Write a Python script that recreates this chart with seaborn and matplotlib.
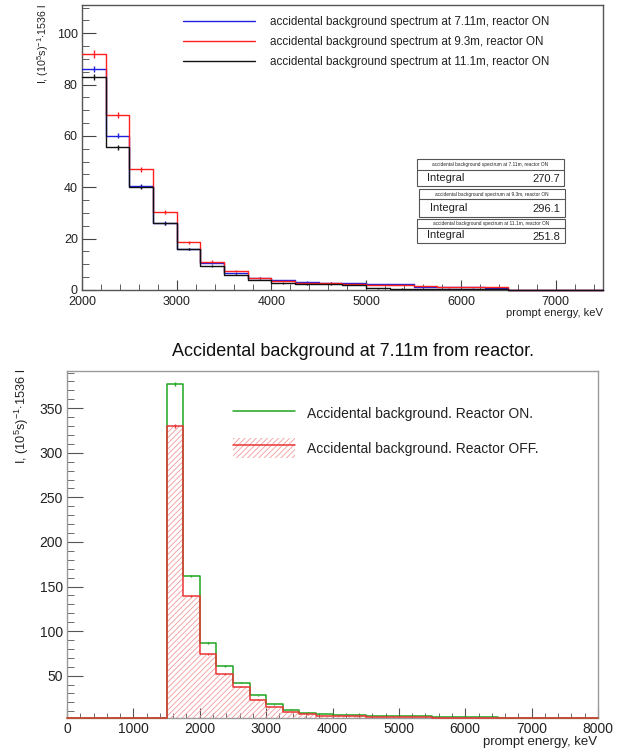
import numpy as np
import pandas as pd
import matplotlib
matplotlib.use('Agg')
import matplotlib.pyplot as plt
import seaborn as sns
from matplotlib.patches import Rectangle, Patch
from matplotlib.lines import Line2D
from matplotlib.ticker import MultipleLocator

# ---- top panel: spectra at three distances, reactor ON ----
top_edges = np.arange(2000, 7501, 250)
top_labels = ['accidental background spectrum at 7.11m, reactor ON',
              'accidental background spectrum at 9.3m, reactor ON',
              'accidental background spectrum at 11.1m, reactor ON']
spec_711 = [86, 60, 40.5, 26, 16, 10.5, 6.5, 4.8, 3.8, 3.2, 2.9, 2.6, 2.2, 2.2, 1.2, 1.2, 1.0, 0.8, 0, 0, 0, 0]
spec_93 = [92, 68, 47, 30.5, 18.5, 11, 7.5, 4.8, 3.3, 2.8, 2.8, 2.5, 2.1, 2.1, 1.6, 1.0, 1.1, 1.0, 0, 0, 0, 0]
spec_111 = [83, 55.5, 40, 26, 16, 9.5, 6, 4, 2.7, 2.2, 2.3, 2.0, 0.6, 0.5, 0.4, 0.4, 0.4, 0.3, 0, 0, 0, 0]
err_711 = [1.2, 1.0, 0.8, 0.7, 0.5, 0.4, 0.3, 0.3, 0.2, 0.2, 0.2, 0.2, 0.2, 0.2, 0.1, 0.1, 0.1, 0.1, 0, 0, 0, 0]
err_93 = [1.5, 1.2, 1.0, 0.8, 0.6, 0.5, 0.4, 0.3, 0.2, 0.2, 0.2, 0.2, 0.2, 0.2, 0.1, 0.1, 0.1, 0.1, 0, 0, 0, 0]
err_111 = [1.1, 0.9, 0.8, 0.6, 0.5, 0.4, 0.3, 0.2, 0.2, 0.2, 0.2, 0.2, 0.1, 0.1, 0.1, 0.1, 0.1, 0.1, 0, 0, 0, 0]
integrals = [270.7, 296.1, 251.8]
top_colors = ['#1f1fe0', '#ff1f1f', '#111111']

# ---- bottom panel: 7.11m, reactor ON vs OFF ----
bot_edges = np.arange(0, 8001, 250)
bg_on = [0, 0, 0, 0, 0, 0,
         377, 162, 87, 61, 42, 28, 17.7, 12, 8.5, 7, 5.9, 5.9, 4.5, 4.5, 4.5, 4.5, 3.3, 3.3, 3.3, 3.3,
         0, 0, 0, 0, 0, 0]
bg_off = [0, 0, 0, 0, 0, 0,
          330, 139, 74, 52, 37.5, 23, 15, 9, 6.5, 5, 4.5, 4.2, 3.9, 3.9, 3.7, 3.6, 2.8, 2.8, 2.6, 2.6,
          0, 0, 0, 0, 0, 0]
err_on = [0] * 6 + [2.2, 1.4, 1.0, 0.8, 0.7, 0.5, 0.4, 0.4, 0.3, 0.3, 0.3, 0.3, 0.2, 0.2, 0.2, 0.2,
                    0.2, 0.2, 0.2, 0.2] + [0] * 6
err_off = [0] * 6 + [2.0, 1.3, 0.9, 0.8, 0.6, 0.5, 0.4, 0.3, 0.3, 0.2, 0.2, 0.2, 0.2, 0.2, 0.2, 0.2,
                     0.2, 0.2, 0.2, 0.2] + [0] * 6
bot_labels = ['Accidental background. Reactor ON.', 'Accidental background. Reactor OFF.']
title = 'Accidental background at 7.11m from reactor.'
ylab = r'I, (10$^{5}$s)$^{-1}$$\cdot$1536 l'

sns.set_style('ticks')
plt.rcParams['font.family'] = ['Liberation Sans', 'DejaVu Sans']
plt.rcParams['mathtext.fontset'] = 'custom'
plt.rcParams['mathtext.rm'] = 'Liberation Sans'
plt.rcParams['mathtext.it'] = 'Liberation Sans:italic'
plt.rcParams['hatch.linewidth'] = 0.6
txt = '#222222'


def step_hist(ax, edges, vals, color, lw):
    # weighted histogram = one entry per bin centre, weight = bin content
    d = pd.DataFrame({'e': (edges[:-1] + edges[1:]) / 2, 'w': np.asarray(vals, float)})
    sns.histplot(data=d, x='e', weights='w', bins=list(edges), element='step', fill=False,
                 color=color, linewidth=lw, ax=ax)
    ax.lines[-1].set_clip_on(False)
    ax.lines[-1].set_zorder(3)


fig = plt.figure(figsize=(6.17, 7.52), dpi=100)

# ================= top =================
ax1 = fig.add_axes([0.1329, 0.6144, 0.8444, 0.379])
top_c = (top_edges[:-1] + top_edges[1:]) / 2
for vals, errs, col in zip([spec_711, spec_93, spec_111], [err_711, err_93, err_111], top_colors):
    step_hist(ax1, top_edges, vals, col, 1.0)
    ax1.errorbar(top_c, vals, yerr=errs, fmt='none', ecolor=col, elinewidth=1.0, capsize=0)

ax1.set_xlim(2000, 7500)
ax1.set_ylim(0, 111)
ax1.set_xlabel('')
ax1.set_ylabel('')
ax1.xaxis.set_major_locator(MultipleLocator(1000))
ax1.xaxis.set_minor_locator(MultipleLocator(200))
ax1.yaxis.set_major_locator(MultipleLocator(20))
ax1.yaxis.set_minor_locator(MultipleLocator(5))
ax1.tick_params(which='both', direction='in', top=False, right=False, colors='#444444',
                labelcolor=txt, labelsize=9)
ax1.tick_params(axis='y', which='major', length=10, pad=3)
ax1.tick_params(axis='y', which='minor', length=5)
ax1.tick_params(axis='x', which='major', length=7, pad=4)
ax1.tick_params(axis='x', which='minor', length=4)
for s in ax1.spines.values():
    s.set_color('#555555')
    s.set_linewidth(1.0)

handles = [Line2D([], [], color=c, lw=1.0) for c in top_colors]
ax1.legend(handles, top_labels, loc='upper left', bbox_to_anchor=(0.194, 0.962),
           frameon=False, fontsize=8.4, handlelength=6.2, handletextpad=1.25,
           labelspacing=0.7, borderpad=0, borderaxespad=0, labelcolor=txt)

boxes = [(0.643, 0.925, 0.4596, 0.421, 0.365),
         (0.647, 0.927, 0.354, 0.319, 0.256),
         (0.643, 0.927, 0.249, 0.218, 0.165)]
for (x0, x1, yt, yh, yb), lab, val in zip(boxes, top_labels, integrals):
    ax1.add_patch(Rectangle((x0, yb), x1 - x0, yt - yb, transform=ax1.transAxes,
                            facecolor='white', edgecolor='#555555', lw=0.8, zorder=5))
    ax1.plot([x0, x1], [yh, yh], transform=ax1.transAxes, color='#555555', lw=0.8, zorder=6)
    ax1.text((x0 + x1) / 2, (yt + yh) / 2, lab, transform=ax1.transAxes, fontsize=3.4,
             ha='center', va='center', color=txt, zorder=7)
    ax1.text(x0 + 0.02, (yh + yb) / 2, 'Integral', transform=ax1.transAxes, fontsize=8,
             ha='left', va='center', color=txt, zorder=7)
    ax1.text(x1 - 0.008, (yh + yb) / 2 - 0.005, f'{val:.1f}', transform=ax1.transAxes,
             fontsize=8, ha='right', va='center', color=txt, zorder=7)

fig.text(603 / 617, 1 - 313 / 752, 'prompt energy, keV', ha='right', va='center',
         fontsize=8, color=txt)
fig.text(43 / 617, 1 - 4 / 752, ylab, rotation=90, ha='center', va='top', fontsize=7.7, color=txt)

# ================= bottom =================
ax2 = fig.add_axes([0.1086, 0.0452, 0.8606, 0.4618])
bot_c = (bot_edges[:-1] + bot_edges[1:]) / 2
y_floor = 2.5
off_plot = np.clip(bg_off, y_floor, None)
on_plot = np.clip(bg_on, y_floor, None)
red = '#e83535'
green = '#1fa51f'
hatch_col = '#f29a9a'

ax2.stairs(off_plot, bot_edges, baseline=y_floor, fill=True, facecolor='none',
           edgecolor=hatch_col, hatch='//////', linewidth=0)
step_hist(ax2, bot_edges, on_plot, green, 1.1)
step_hist(ax2, bot_edges, off_plot, red, 1.1)
ax2.errorbar(bot_c, bg_on, yerr=err_on, fmt='none', ecolor=green, elinewidth=1.0, capsize=0)
ax2.errorbar(bot_c, bg_off, yerr=err_off, fmt='none', ecolor=red, elinewidth=1.0, capsize=0)

ax2.set_xlim(0, 8000)
ax2.set_ylim(y_floor, 392)
ax2.set_xlabel('')
ax2.set_ylabel('')
ax2.xaxis.set_major_locator(MultipleLocator(1000))
ax2.xaxis.set_minor_locator(MultipleLocator(200))
ax2.yaxis.set_major_locator(MultipleLocator(50))
ax2.yaxis.set_minor_locator(MultipleLocator(10))
ax2.tick_params(which='both', direction='in', top=False, right=False, colors='#555555',
                labelcolor=txt, labelsize=10)
ax2.tick_params(axis='y', which='major', length=11.5, pad=3)
ax2.tick_params(axis='y', which='minor', length=5)
ax2.tick_params(axis='x', which='major', length=7.5, pad=3)
ax2.tick_params(axis='x', which='minor', length=3.5)
for s in ax2.spines.values():
    s.set_color('#9a9a9a')
    s.set_linewidth(1.0)

h_on = Line2D([], [], color=green, lw=1.1)
h_off = (Patch(facecolor='none', edgecolor=hatch_col, hatch='//////', lw=0),
         Line2D([], [], color=red, lw=1.1))
ax2.legend([h_on, h_off], bot_labels, loc='upper left', bbox_to_anchor=(0.3126, 0.906),
           frameon=False, fontsize=10, handlelength=4.5, handleheight=1.9,
           handletextpad=0.85, labelspacing=1.0, borderpad=0, borderaxespad=0,
           labelcolor=txt)

fig.text(353 / 617, 1 - 352 / 752, title, ha='center', va='center', fontsize=13, color='#111111')
fig.text(597 / 617, 1 - 742 / 752, 'prompt energy, keV', ha='right', va='center',
         fontsize=9.5, color=txt)
fig.text(22 / 617, 1 - 369 / 752, ylab, rotation=90, ha='center', va='top', fontsize=9.2, color=txt)

fig.savefig('out.png', dpi=100)
